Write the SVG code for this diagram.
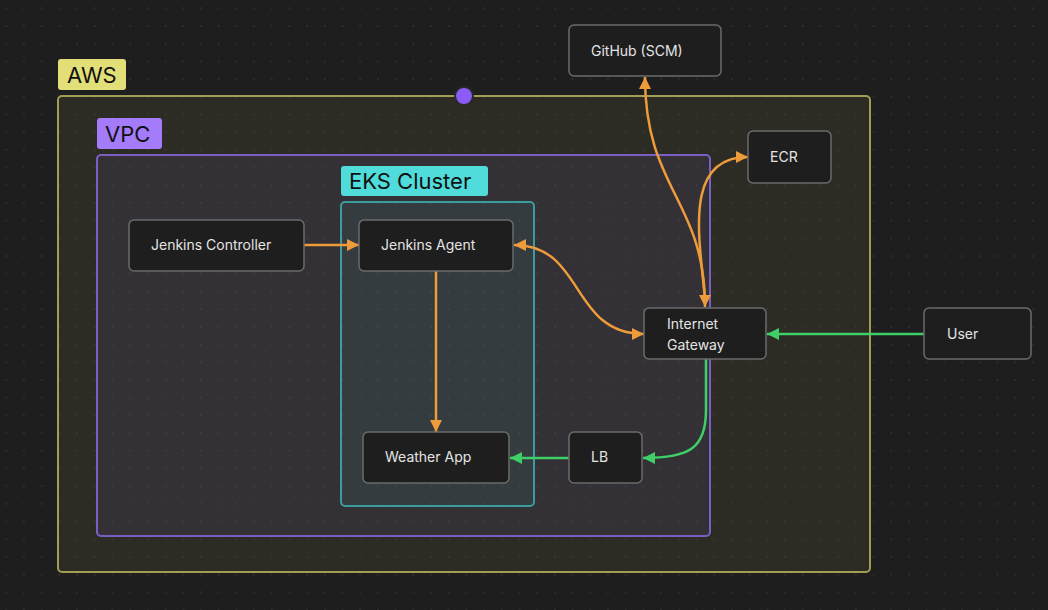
<svg xmlns="http://www.w3.org/2000/svg" width="1048" height="610" viewBox="0 0 1048 610">
<style>
.node rect{fill:#1e1e1e;stroke:#6b6b6b;stroke-width:1.5}
.node text{font-family:Inter,"Noto Sans","Liberation Sans",sans-serif;font-size:14px;fill:#e4e4e4}
.lbl{font-family:Inter,"Noto Sans","Liberation Sans",sans-serif;font-size:22px;fill:#111}
.o{fill:none;stroke:#ee9b3b;stroke-width:2.5}
.g{fill:none;stroke:#3fcf67;stroke-width:2.5}
</style>
<defs>
<pattern id="dots" x="5.3" y="7.3" width="17.7" height="17.7" patternUnits="userSpaceOnUse">
<circle cx="0.9" cy="0.9" r="0.9" fill="#343434"/>
</pattern>
<pattern id="dots2" x="5.3" y="7.3" width="17.7" height="17.7" patternUnits="userSpaceOnUse">
<circle cx="0.9" cy="0.9" r="0.9" fill="#ffffff" fill-opacity="0.07"/>
</pattern>
<marker id="ao" viewBox="0 0 10 10" refX="10" refY="5" markerWidth="12" markerHeight="13" markerUnits="userSpaceOnUse" orient="auto-start-reverse"><path d="M0,0 L10,5 L0,10 Z" fill="#ee9b3b"/></marker>
<marker id="ag" viewBox="0 0 10 10" refX="10" refY="5" markerWidth="12" markerHeight="13" markerUnits="userSpaceOnUse" orient="auto-start-reverse"><path d="M0,0 L10,5 L0,10 Z" fill="#3fcf67"/></marker>
</defs>
<rect width="1048" height="610" fill="#1e1e1e"/>
<rect width="1048" height="610" fill="url(#dots)"/>

<g id="aws">
<rect x="58" y="96" width="812" height="476" rx="4" fill="#2c2b24" stroke="#a09d55" stroke-width="2"/>
<rect x="58" y="96" width="812" height="476" rx="4" fill="url(#dots2)"/>
<rect x="58" y="59" width="68" height="31" rx="3" fill="#e3df78"/>
<text class="lbl" x="67" y="83">AWS</text>
<circle cx="464" cy="96" r="9" fill="#8b5cf6" stroke="#2a2a2a" stroke-width="2"/>
</g>
<g id="vpc">
<rect x="97" y="155" width="613" height="381" rx="4" fill="#333135" stroke="#7c5fc4" stroke-width="2"/>
<rect x="97" y="155" width="613" height="381" rx="4" fill="url(#dots2)"/>
<rect x="97" y="118" width="65" height="31" rx="3" fill="#a47cf9"/>
<text class="lbl" x="105" y="142">VPC</text>
</g>
<g id="eks">
<rect x="341" y="202" width="193" height="304" rx="4" fill="#343c3f" stroke="#3a9c9c" stroke-width="2"/>
<rect x="341" y="202" width="193" height="304" rx="4" fill="url(#dots2)"/>
<rect x="341" y="166" width="147" height="30" rx="3" fill="#50dcdb"/>
<text class="lbl" x="349" y="189">EKS Cluster</text>
</g>

<g id="connectors">
<path class="o" d="M304,245 L359,245" marker-end="url(#ao)"/>
<path class="o" d="M436,271 L436,432" marker-end="url(#ao)"/>
<path class="o" d="M514,245 C585,245 570,334 644,334" marker-start="url(#ao)" marker-end="url(#ao)"/>
<path class="o" d="M645,77 C645,190 705,200 705,307" marker-start="url(#ao)" marker-end="url(#ao)"/>
<path class="o" d="M705,300 C700,240 682,157 748,157" marker-end="url(#ao)"/>
<path class="g" d="M924,334 L767,334" marker-end="url(#ag)"/>
<path class="g" d="M706,359 L706,410 C706,448 690,458 643,458" marker-end="url(#ag)"/>
<path class="g" d="M569,458 L510,458" marker-end="url(#ag)"/>
</g>

<g id="jenkins-controller" class="node"><rect x="129" y="220" width="175" height="51" rx="5"/><text x="151" y="250">Jenkins Controller</text></g>
<g id="jenkins-agent" class="node"><rect x="359" y="220" width="154" height="51" rx="5"/><text x="381" y="250">Jenkins Agent</text></g>
<g id="weather-app" class="node"><rect x="363" y="432" width="146" height="51" rx="5"/><text x="385" y="462">Weather App</text></g>
<g id="lb" class="node"><rect x="569" y="432" width="73" height="51" rx="5"/><text x="591" y="462">LB</text></g>
<g id="internet-gateway" class="node"><rect x="644" y="308" width="122" height="51" rx="5"/><text x="667" y="329">Internet</text><text x="667" y="350">Gateway</text></g>
<g id="ecr" class="node"><rect x="748" y="131" width="83" height="52" rx="5"/><text x="770" y="162">ECR</text></g>
<g id="github" class="node"><rect x="569" y="25" width="152" height="51" rx="5"/><text x="591" y="56">GitHub (SCM)</text></g>
<g id="user" class="node"><rect x="924" y="308" width="107" height="51" rx="5"/><text x="947" y="339">User</text></g>
</svg>
